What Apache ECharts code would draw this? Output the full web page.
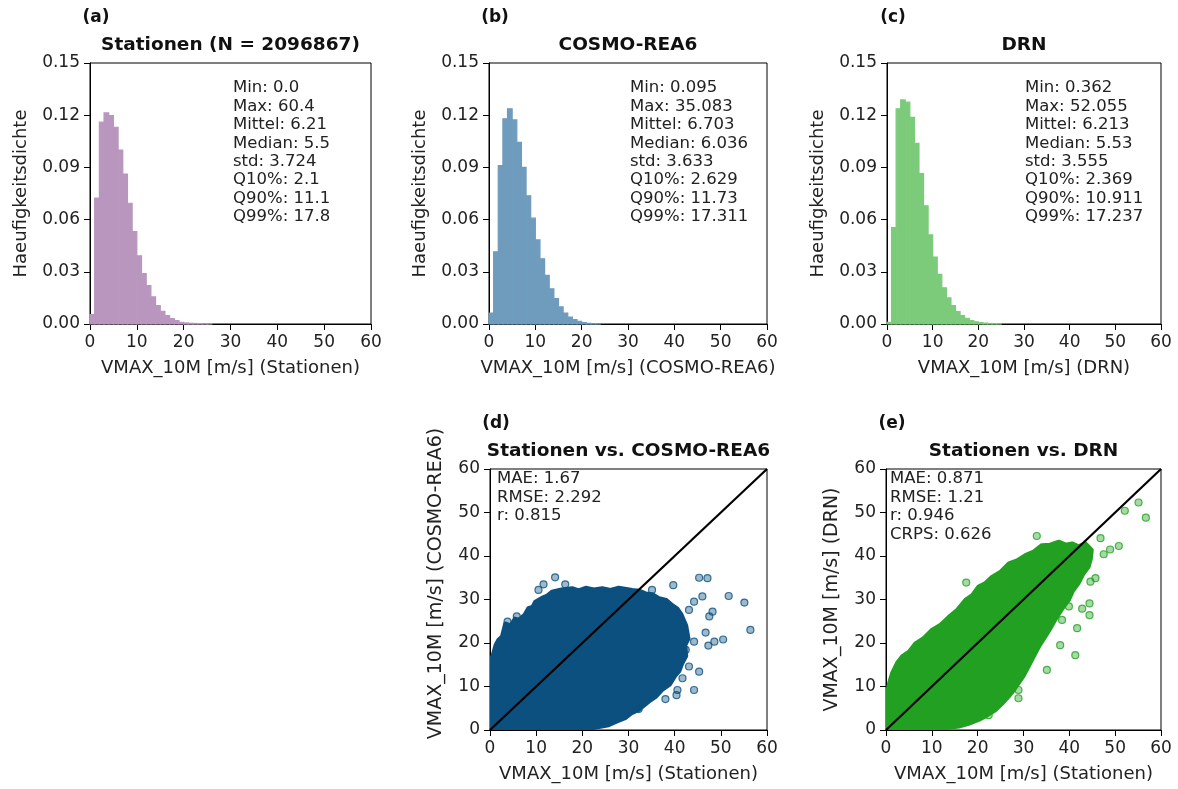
<!DOCTYPE html>
<html>
<head>
<meta charset="utf-8">
<title>VMAX_10M Stationen / COSMO-REA6 / DRN</title>
<script src="https://cdn.jsdelivr.net/npm/echarts@6/dist/echarts.min.js"></script>
<style>
  html, body { margin: 0; padding: 0; background: #fff; }
  #chart { width: 1178px; height: 789px; }
</style>
</head>
<body>
<div id="chart"></div>
<script>
// histogram densities, 1 m/s bins starting at 0 m/s
const binWidth = 1;
const densStationen = [0.0054, 0.0723, 0.116, 0.1213, 0.1198, 0.113, 0.100, 0.0862, 0.0694, 0.0531,
  0.0392, 0.029, 0.0221, 0.0156, 0.0106, 0.0073, 0.0048, 0.0031, 0.0019, 0.001,
  0.0006, 0.0004, 0.0003, 0.0002, 0.0001, 0.0001];
const densCosmo = [0.0063, 0.0415, 0.091, 0.1179, 0.1237, 0.1173, 0.1044, 0.090, 0.0737, 0.0608,
  0.0483, 0.0375, 0.0279, 0.0202, 0.0146, 0.0098, 0.0063, 0.004, 0.0025, 0.0015,
  0.0008, 0.0004, 0.0002, 0.0001];
const densDrn = [0.001, 0.0554, 0.1237, 0.1288, 0.1275, 0.1188, 0.1038, 0.0865, 0.0679, 0.0512,
  0.0385, 0.0285, 0.0208, 0.015, 0.0106, 0.0071, 0.0048, 0.0033, 0.002, 0.0013,
  0.0008, 0.0005, 0.0003, 0.0002, 0.0001];

const statsStationen = ['Min: 0.0', 'Max: 60.4', 'Mittel: 6.21', 'Median: 5.5', 'std: 3.724', 'Q10%: 2.1', 'Q90%: 11.1', 'Q99%: 17.8'];
const statsCosmo = ['Min: 0.095', 'Max: 35.083', 'Mittel: 6.703', 'Median: 6.036', 'std: 3.633', 'Q10%: 2.629', 'Q90%: 11.73', 'Q99%: 17.311'];
const statsDrn = ['Min: 0.362', 'Max: 52.055', 'Mittel: 6.213', 'Median: 5.53', 'std: 3.555', 'Q10%: 2.369', 'Q90%: 10.911', 'Q99%: 17.237'];

// dense part of the scatter clouds, outline [stationen, model]
const cloudCosmo = [[0, 0], [0, 16], [0.6, 17.2], [1.2, 19.5], [1.8, 20.7], [2.6, 21.5], [3.3, 24.5], [4.5, 24],
  [5.4, 25.6], [6.2, 25.3], [7.5, 26.5], [8.3, 28], [9.2, 28.3], [9.8, 29.5], [11.5, 30.5], [12.4, 30.9],
  [13.4, 31.8], [15.5, 32.3], [17.8, 32.6], [19.2, 32.1], [20.7, 32.7], [22.5, 32.3], [24.3, 32.6],
  [26.1, 32.2], [27.9, 32.7], [30.8, 32.2], [32.4, 32.0], [33.7, 31.4], [35.2, 31.2], [36.6, 30.3],
  [38.2, 29.9], [39.5, 28.7], [40.6, 27.9], [41.5, 26.5], [42.5, 24], [43, 21], [42.3, 19.5], [42.5, 17],
  [41.6, 15.2], [41, 13.5], [40.1, 12.4], [39, 10.5], [37.3, 9.2], [35.9, 7.6], [34.4, 6.5], [32.2, 4.6],
  [30.6, 3.8], [29.3, 2.7], [27.4, 1.9], [25.7, 1.1], [22.1, 0.4], [19.2, 0]];
const outliersCosmo = [[14.1, 35.1], [11.6, 33.5], [10.5, 32.2], [16.3, 33.5], [45.3, 35.0], [47.1, 34.9],
  [39.7, 33.3], [46, 30.7], [51.7, 30.8], [55.1, 29.3], [56.4, 23], [50.5, 20.8], [48.6, 20.3], [47.3, 19.4],
  [46.7, 22.4], [48.2, 27.2], [47.5, 26.1], [44.2, 29.5], [43.1, 27.6], [44.2, 20.3], [45.3, 13.4],
  [44.2, 9.2], [40.4, 8], [38, 7.1], [32.2, 4.8], [5.8, 26.1], [3.8, 24.9], [35.1, 32.2], [42.4, 18.4],
  [43.1, 14.6], [41.7, 11.9], [40.6, 9.2]];
const cloudDrn = [[0, 0], [0, 6.9], [0.6, 10.5], [1.3, 13], [2.4, 15.4], [3.5, 16.9], [5.0, 18.0], [6.4, 19.9],
  [8.2, 21.1], [10, 23], [11.9, 24.2], [13.7, 26], [15.5, 27.6], [17.3, 29.9], [18.8, 31.0], [20.2, 33],
  [21.7, 33.8], [23.1, 35.2], [25.0, 36.4], [26.8, 38.3], [28.6, 39.0], [30.4, 40.2], [32.2, 41.0], [34, 42.5],
  [35.8, 42.6], [37.7, 43.3], [39.2, 42.6], [40.6, 42.9], [42.0, 42.2], [43.5, 42.9], [44.9, 41.4],
  [44.7, 39.4], [44.2, 37.5], [43.0, 35.8], [42, 33.7], [40.8, 32.0], [39.9, 29.9], [38.3, 27.6],
  [36.9, 25.3], [35.9, 23.4], [34.8, 21.5], [33.5, 19.4], [32.6, 17.6], [31.1, 14.6], [30.0, 12.4],
  [28.9, 10.7], [27.8, 9.0], [26.8, 7.7], [25.3, 6.0], [23.9, 4.6], [22.0, 3.3], [20.2, 2.3], [18.0, 1.4],
  [15.9, 0.8], [10, 0]];
const outliersDrn = [[32.9, 44.6], [17.5, 33.9], [55.1, 52.3], [56.7, 48.8], [52.1, 50.4], [50.8, 42.3],
  [48.9, 41.5], [47.5, 40.4], [46.8, 44.1], [45.7, 34.9], [44.6, 34.1], [44.4, 29.1], [44.4, 26.4],
  [41.7, 23.4], [38.4, 25.3], [38.0, 19.5], [41.3, 17.2], [35.1, 13.8], [28.9, 9.2], [28.9, 7.3],
  [22.4, 3.4], [42.8, 27.9], [39.9, 28.4]];
const diagonal = [[0, 0], [60, 60]];

const scoresCosmo = ['MAE: 1.67', 'RMSE: 2.292', 'r: 0.815'];
const scoresDrn = ['MAE: 0.871', 'RMSE: 1.21', 'r: 0.946', 'CRPS: 0.626'];

const FONT = '"DejaVu Sans", sans-serif';
const TXT = '#222';

const panels = [
  { letter: '(a)', title: 'Stationen (N = 2096867)', grid: { left: 90, top: 63, width: 281, height: 261 },
    hist: densStationen, color: '#b996be', stats: statsStationen, statX: 233,
    xName: 'VMAX_10M [m/s] (Stationen)', yName: 'Haeufigkeitsdichte' },
  { letter: '(b)', title: 'COSMO-REA6', grid: { left: 489, top: 63, width: 278, height: 261 },
    hist: densCosmo, color: '#6f9cbd', stats: statsCosmo, statX: 630,
    xName: 'VMAX_10M [m/s] (COSMO-REA6)', yName: 'Haeufigkeitsdichte' },
  { letter: '(c)', title: 'DRN', grid: { left: 887, top: 63, width: 274, height: 261 },
    hist: densDrn, color: '#7bcb7b', stats: statsDrn, statX: 1025,
    xName: 'VMAX_10M [m/s] (DRN)', yName: 'Haeufigkeitsdichte' },
  { letter: '(d)', title: 'Stationen vs. COSMO-REA6', grid: { left: 490, top: 469, width: 277, height: 261 },
    cloud: cloudCosmo, outliers: outliersCosmo, color: '#0b507e', dot: 'rgba(11,80,126,0.5)', stats: scoresCosmo, statX: 497,
    xName: 'VMAX_10M [m/s] (Stationen)', yName: 'VMAX_10M [m/s] (COSMO-REA6)', yNamePad: [0, 0, 0, 32] },
  { letter: '(e)', title: 'Stationen vs. DRN', grid: { left: 886, top: 469, width: 275, height: 261 },
    cloud: cloudDrn, outliers: outliersDrn, color: '#22a022', dot: 'rgba(34,160,34,0.5)', stats: scoresDrn, statX: 890,
    xName: 'VMAX_10M [m/s] (Stationen)', yName: 'VMAX_10M [m/s] (DRN)', yNamePad: [0, 0, 0, 0] }
];

const grids = [], xAxes = [], yAxes = [], series = [], graphics = [];

panels.forEach((p, i) => {
  const isHist = !!p.hist;
  grids.push(Object.assign({ show: true, borderColor: '#000', borderWidth: 1, backgroundColor: 'transparent' }, p.grid));

  const axisCommon = {
    gridIndex: i,
    type: 'value',
    axisLine: { show: true, onZero: false, lineStyle: { color: '#000', width: 1 } },
    axisTick: { show: true, length: 6, lineStyle: { color: '#000' } },
    splitLine: { show: false },
    nameLocation: 'middle',
    nameTextStyle: { fontFamily: FONT, fontSize: 18, color: TXT }
  };
  xAxes.push(Object.assign({}, axisCommon, {
    min: 0, max: 60, interval: 10,
    axisLabel: { fontFamily: FONT, fontSize: 17, color: TXT, margin: 10 },
    name: p.xName, nameGap: 35
  }));
  if (isHist) {
    yAxes.push(Object.assign({}, axisCommon, {
      min: 0, max: 0.15, interval: 0.03,
      axisLabel: { fontFamily: FONT, fontSize: 17, color: TXT, margin: 10, formatter: v => v.toFixed(2) },
      name: p.yName, nameGap: 60
    }));
  } else {
    yAxes.push(Object.assign({}, axisCommon, {
      min: 0, max: 60, interval: 10,
      axisLabel: { fontFamily: FONT, fontSize: 17, color: TXT, margin: 10 },
      name: p.yName, nameGap: 44,
      nameTextStyle: { fontFamily: FONT, fontSize: 19, color: TXT, padding: p.yNamePad }
    }));
  }

  if (isHist) {
    const bins = p.hist.map((d, k) => [k * binWidth, (k + 1) * binWidth, d]);
    series.push({
      type: 'custom', xAxisIndex: i, yAxisIndex: i, silent: true,
      data: bins, encode: { x: [0, 1], y: 2 },
      renderItem: (params, api) => {
        const a = api.coord([api.value(0), 0]);
        const b = api.coord([api.value(1), api.value(2)]);
        return {
          type: 'rect',
          shape: { x: a[0], y: b[1], width: b[0] - a[0], height: a[1] - b[1] },
          style: { fill: p.color, stroke: p.color, lineWidth: 1.2 }
        };
      }
    });
  } else {
    const outline = p.cloud;
    series.push({
      type: 'custom', xAxisIndex: i, yAxisIndex: i, silent: true, clip: true,
      data: outline, encode: { x: 0, y: 1 },
      renderItem: (params, api) => {
        if (params.dataIndex !== 0) return null;
        return {
          type: 'polygon',
          shape: { points: outline.map(pt => api.coord(pt)) },
          style: { fill: p.color, stroke: p.color, lineWidth: 4, lineJoin: 'round' }
        };
      }
    });
    series.push({
      type: 'scatter', xAxisIndex: i, yAxisIndex: i, silent: true,
      data: p.outliers, symbolSize: 7,
      itemStyle: { color: p.dot, borderColor: p.color, borderWidth: 1.2, opacity: 0.8 }
    });
    series.push({
      type: 'line', xAxisIndex: i, yAxisIndex: i, silent: true, z: 5,
      data: diagonal, symbol: 'none',
      lineStyle: { color: '#000', width: 2.2 }
    });
  }

  const cx = p.grid.left + p.grid.width / 2;
  graphics.push({
    type: 'text', x: cx, y: p.grid.top - 18,
    style: { text: p.title, font: 'bold 18.5px ' + FONT, fill: '#111', align: 'center', verticalAlign: 'middle' }
  });
  graphics.push({
    type: 'text', x: p.grid.left + 6, y: p.grid.top - 45,
    style: { text: p.letter, font: 'bold 17px ' + FONT, fill: '#111', align: 'center', verticalAlign: 'middle' }
  });
  graphics.push({
    type: 'text', x: p.statX, y: isHist ? p.grid.top + 16 : p.grid.top + 1,
    style: { text: p.stats.join('\n'), font: '16.5px ' + FONT, fill: TXT, lineHeight: 18.4, verticalAlign: 'top' }
  });
});

const chart = echarts.init(document.getElementById('chart'));
chart.setOption({
  animation: false,
  backgroundColor: '#fff',
  grid: grids,
  xAxis: xAxes,
  yAxis: yAxes,
  series: series,
  graphic: graphics
});
</script>
</body>
</html>
